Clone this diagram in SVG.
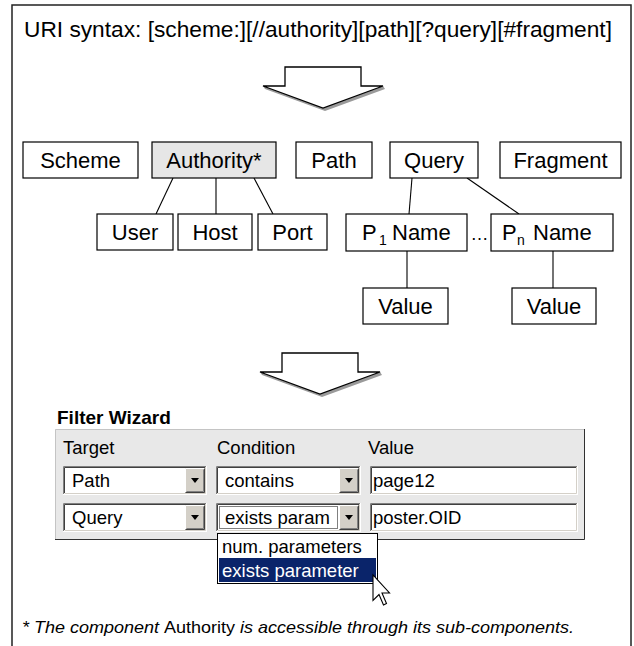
<svg xmlns="http://www.w3.org/2000/svg" width="634" height="646" viewBox="0 0 634 646">
<style>
text{font-family:"Liberation Sans",Arial,sans-serif;fill:#000}
.frame{fill:none;stroke:#222;stroke-width:1.5}
.box{fill:#fff;stroke:#000;stroke-width:1.2}
.auth{fill:#e6e6e6}
.lbl{font-size:22px;text-anchor:middle}
.conn line{stroke:#000;stroke-width:1.1}
.big{fill:#fff;stroke:#000;stroke-width:1.3;stroke-linejoin:miter}
.shadow{fill:#9a9a9a}
.ui{font-size:18.5px}
.panel{fill:#e8e8e8}
.fld{fill:#fff}
.d1{fill:none;stroke:#808080;stroke-width:1}
.d2{fill:none;stroke:#404040;stroke-width:1}
.l1{fill:none;stroke:#fff;stroke-width:1}
.l2{fill:none;stroke:#d4d0c8;stroke-width:1}
.btn{fill:#d4d0c8}
.tri{fill:#000}
.foot{font-size:17px;font-style:italic}
</style>

<rect class="frame" x="12" y="5" width="619" height="660"/>

<g id="title">
<text x="24" y="37" font-size="22.5" textLength="588" lengthAdjust="spacingAndGlyphs">URI syntax: [scheme:][//authority][path][?query][#fragment]</text>
</g>

<g id="arrow1">
<polygon class="shadow" points="265,89 325,111 385,89 383,86 323,108 263,86"/>
<polygon class="big" points="285,67 361,67 361,86 383,86 323,108 263,86 285,86"/>
</g>

<g class="conn" id="connectors">
<line x1="173" y1="178" x2="156" y2="214"/>
<line x1="216" y1="178" x2="216" y2="214"/>
<line x1="254" y1="178" x2="273" y2="214"/>
<line x1="412" y1="178" x2="409" y2="214"/>
<line x1="467" y1="178" x2="519" y2="214"/>
<line x1="407" y1="251" x2="407" y2="288"/>
<line x1="553" y1="251" x2="553" y2="288"/>
</g>

<g id="scheme"><rect class="box" x="23" y="142" width="115" height="36"/><text class="lbl" x="80.5" y="168">Scheme</text></g>
<g id="authority"><rect class="box auth" x="152" y="142" width="124" height="36"/><text class="lbl" x="214" y="168">Authority*</text></g>
<g id="path"><rect class="box" x="296" y="142" width="76" height="36"/><text class="lbl" x="334" y="168">Path</text></g>
<g id="query"><rect class="box" x="390" y="142" width="88" height="36"/><text class="lbl" x="434" y="168">Query</text></g>
<g id="fragment"><rect class="box" x="500" y="142" width="121" height="36"/><text class="lbl" x="560.5" y="168">Fragment</text></g>

<g id="user"><rect class="box" x="97" y="214" width="76" height="36"/><text class="lbl" x="135" y="240">User</text></g>
<g id="host"><rect class="box" x="178" y="214" width="74" height="36"/><text class="lbl" x="215" y="240">Host</text></g>
<g id="port"><rect class="box" x="258" y="214" width="69" height="36"/><text class="lbl" x="292.5" y="240">Port</text></g>

<g id="p1name"><rect class="box" x="346" y="214" width="121" height="37"/><text y="240" font-size="22"><tspan x="362">P</tspan><tspan x="379" dy="5" font-size="14">1</tspan><tspan x="392" dy="-5">Name</tspan></text></g>
<g id="ellipsis"><text x="479.5" y="240" font-size="18" text-anchor="middle">…</text></g>
<g id="pnname"><rect class="box" x="491" y="214" width="122" height="37"/><text y="240" font-size="22"><tspan x="502">P</tspan><tspan x="517" dy="5" font-size="14">n</tspan><tspan x="533" dy="-5">Name</tspan></text></g>

<g id="value1"><rect class="box" x="363" y="288" width="85" height="36"/><text class="lbl" x="405.5" y="314">Value</text></g>
<g id="value2"><rect class="box" x="512" y="288" width="84" height="36"/><text class="lbl" x="554" y="314">Value</text></g>

<g id="arrow2">
<polygon class="shadow" points="262,375 322,397 382,375 380,372 320,394 260,372"/>
<polygon class="big" points="282,353 358,353 358,372 380,372 320,394 260,372 282,372"/>
</g>

<g id="wizard">
<text x="57" y="424" font-size="19" font-weight="bold">Filter Wizard</text>
<rect class="panel" x="55" y="429" width="530" height="111"/>
<path d="M55.5,540 V429.5 H585" fill="none" stroke="#c4c4c4"/>
<path d="M55,539.5 H584.5 V429" fill="none" stroke="#303030"/>
<text class="ui" x="63" y="454">Target</text>
<text class="ui" x="217" y="454">Condition</text>
<text class="ui" x="368" y="454">Value</text>

<g id="r1-target">
<rect class="fld" x="63" y="466" width="144" height="29"/>
<path class="d1" d="M63.5,494 V466.5 H206"/><path class="d2" d="M64.5,493 V467.5 H205"/>
<path class="l1" d="M63.5,494.5 H206.5 V466"/><path class="l2" d="M64.5,493.5 H205.5 V467"/>
<rect class="btn" x="185" y="468" width="20" height="25"/>
<path d="M185.5,492.5 V468.5 H204.5" fill="none" stroke="#fff"/><path d="M185.5,492.5 H204.5 V468.5" fill="none" stroke="#404040"/><path d="M186.5,491.5 H203.5 V469.5" fill="none" stroke="#808080"/>
<polygon class="tri" points="191,478 199,478 195,483"/>
<text class="ui" x="72" y="487">Path</text>
</g>
<g id="r1-cond">
<rect class="fld" x="216" y="466" width="145" height="29"/>
<path class="d1" d="M216.5,494 V466.5 H360"/><path class="d2" d="M217.5,493 V467.5 H359"/>
<path class="l1" d="M216.5,494.5 H360.5 V466"/><path class="l2" d="M217.5,493.5 H359.5 V467"/>
<rect class="btn" x="339" y="468" width="20" height="25"/>
<path d="M339.5,492.5 V468.5 H358.5" fill="none" stroke="#fff"/><path d="M339.5,492.5 H358.5 V468.5" fill="none" stroke="#404040"/><path d="M340.5,491.5 H357.5 V469.5" fill="none" stroke="#808080"/>
<polygon class="tri" points="345,478 353,478 349,483"/>
<text class="ui" x="225" y="487">contains</text>
</g>
<g id="r1-value">
<rect class="fld" x="370" y="466" width="208" height="29"/>
<path class="d1" d="M370.5,494 V466.5 H577"/><path class="d2" d="M371.5,493 V467.5 H576"/>
<path class="l1" d="M370.5,494.5 H577.5 V466"/><path class="l2" d="M371.5,493.5 H576.5 V467"/>
<text class="ui" x="373" y="487">page12</text>
</g>

<g id="r2-target">
<rect class="fld" x="63" y="503" width="144" height="29"/>
<path class="d1" d="M63.5,531 V503.5 H206"/><path class="d2" d="M64.5,530 V504.5 H205"/>
<path class="l1" d="M63.5,531.5 H206.5 V503"/><path class="l2" d="M64.5,530.5 H205.5 V504"/>
<rect class="btn" x="185" y="505" width="20" height="25"/>
<path d="M185.5,529.5 V505.5 H204.5" fill="none" stroke="#fff"/><path d="M185.5,529.5 H204.5 V505.5" fill="none" stroke="#404040"/><path d="M186.5,528.5 H203.5 V506.5" fill="none" stroke="#808080"/>
<polygon class="tri" points="191,515 199,515 195,520"/>
<text class="ui" x="72" y="524">Query</text>
</g>
<g id="r2-cond">
<rect class="fld" x="216" y="503" width="145" height="29"/>
<path class="d1" d="M216.5,531 V503.5 H360"/><path class="d2" d="M217.5,530 V504.5 H359"/>
<path class="l1" d="M216.5,531.5 H360.5 V503"/><path class="l2" d="M217.5,530.5 H359.5 V504"/>
<rect x="219.5" y="506.5" width="118" height="22" fill="none" stroke="#000" stroke-dasharray="1,1"/>
<text class="ui" x="225" y="524">exists param</text>
<rect class="btn" x="339" y="505" width="20" height="25"/>
<path d="M339.5,529.5 V505.5 H358.5" fill="none" stroke="#fff"/><path d="M339.5,529.5 H358.5 V505.5" fill="none" stroke="#404040"/><path d="M340.5,528.5 H357.5 V506.5" fill="none" stroke="#808080"/>
<polygon class="tri" points="345,515 353,515 349,520"/>
</g>
<g id="r2-value">
<rect class="fld" x="370" y="503" width="208" height="29"/>
<path class="d1" d="M370.5,531 V503.5 H577"/><path class="d2" d="M371.5,530 V504.5 H576"/>
<path class="l1" d="M370.5,531.5 H577.5 V503"/><path class="l2" d="M371.5,530.5 H576.5 V504"/>
<text class="ui" x="373" y="524">poster.OID</text>
</g>

<g id="dropdown">
<rect x="217.5" y="533.5" width="160" height="50" fill="#fff" stroke="#000"/>
<rect x="219" y="558" width="157" height="24" fill="#0a246a"/>
<text class="ui" x="222" y="553">num. parameters</text>
<text class="ui" x="222" y="577" style="fill:#fff">exists parameter</text>
</g>

<g id="cursor">
<path d="M373,575 V600.5 L379,594.5 L383.5,605 L386.5,603.5 L382,593 H389.5 Z" fill="#fff" stroke="#000" stroke-width="1.1" stroke-linejoin="miter"/>
</g>
</g>

<g id="footnote">
<text class="foot" x="22" y="633" textLength="552" lengthAdjust="spacingAndGlyphs">* The component <tspan font-style="normal">Authority</tspan> is accessible through its sub-components.</text>
</g>
</svg>
